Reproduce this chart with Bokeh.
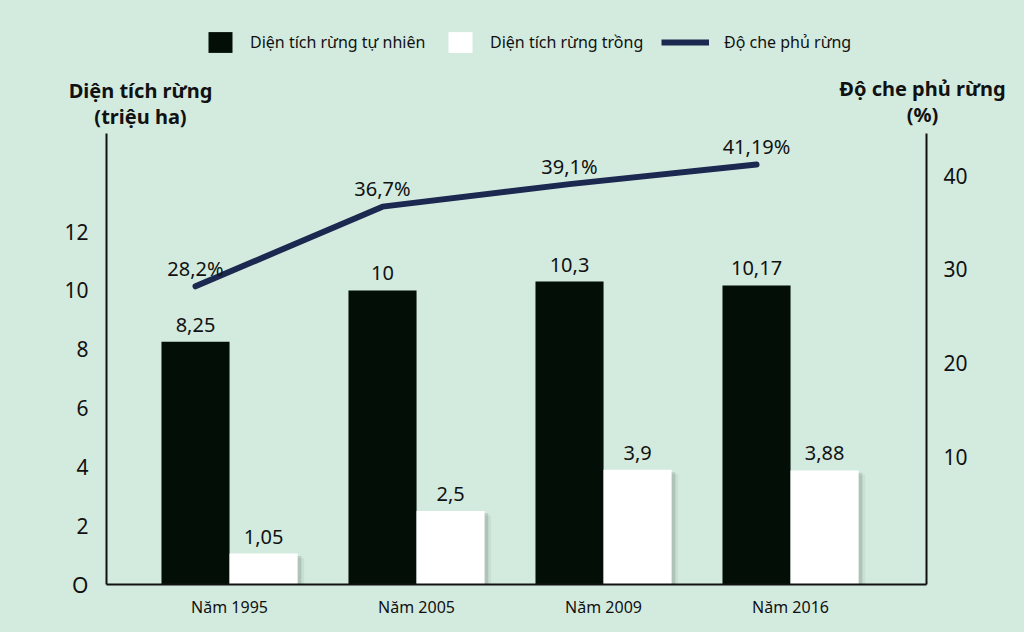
from bokeh.plotting import figure
from bokeh.layouts import column
from bokeh.models import (ColumnDataSource, LinearAxis, Range1d, FixedTicker,
                          LabelSet, Label, Legend, LegendItem)
from bokeh.core.properties import value
from bokeh.embed import file_html
from bokeh.resources import INLINE

# data
years = ["Năm 1995", "Năm 2005", "Năm 2009", "Năm 2016"]
natural_forest = [8.25, 10, 10.3, 10.17]     # triệu ha
planted_forest = [1.05, 2.5, 3.9, 3.88]      # triệu ha
forest_cover = [28.2, 36.7, 39.1, 41.19]     # %
left_ticks = [0, 2, 4, 6, 8, 10, 12]
right_ticks = [10, 20, 30, 40]

FONT = "Noto Sans"
BG = "#d3ebdf"
BAR_DARK = "#020e06"
LINE_COLOR = "#1b2850"
TXT = "#111111"

x = list(range(len(years)))
bw = 0.364
x_nat = [i - bw / 2 for i in x]
x_pla = [i + bw / 2 for i in x]

src = ColumnDataSource(data=dict(
    x_nat=x_nat, x_pla=x_pla,
    nat=natural_forest, pla=planted_forest, cover=forest_cover,
    nat_lbl=[f"{v:g}".replace(".", ",") for v in natural_forest],
    pla_lbl=[f"{v:g}".replace(".", ",") for v in planted_forest],
    cover_lbl=[f"{v:g}".replace(".", ",") + "%" for v in forest_cover],
))

HEAD_H = 133

# ---- header: legend + axis titles ----
head = figure(width=1024, height=HEAD_H, output_backend="svg", toolbar_location=None,
              x_range=Range1d(0, 1024), y_range=Range1d(HEAD_H, 0),
              min_border=0, background_fill_color=BG, border_fill_color=BG,
              outline_line_color=None)
head.frame_align = False
head.axis.visible = False
head.grid.visible = False

# zero-size renderers, only used for the legend swatches
dummy_nat = head.vbar(x=[0], top=[0], width=0, fill_color=BAR_DARK, line_color=None)
dummy_pla = head.vbar(x=[0], top=[0], width=0, fill_color="white", line_color=None)
dummy_line = head.line(x=[0], y=[0], line_color=LINE_COLOR, line_width=6)


def add_legend(label, renderer, loc, gw):
    lg = Legend(items=[LegendItem(label=label, renderers=[renderer])], location=loc,
                orientation="horizontal", glyph_width=gw, glyph_height=26, label_height=26,
                label_standoff=15, padding=0, margin=0, border_line_color=None,
                background_fill_alpha=0, label_text_font=FONT, label_text_font_size="16px",
                label_text_color=TXT)
    head.add_layout(lg)


add_legend("Diện tích rừng tự nhiên", dummy_nat, (205, HEAD_H - 55), 30)
add_legend("Diện tích rừng trồng", dummy_pla, (445, HEAD_H - 55), 30)
add_legend("Độ che phủ rừng", dummy_line, (661, HEAD_H - 55), 48)

title_style = dict(text_font=FONT, text_font_size="20px", text_font_style="bold",
                   text_color=TXT, text_align="center", text_baseline="middle")
head.add_layout(Label(x=140, y=90, text="Diện tích rừng", **title_style))
head.add_layout(Label(x=140, y=116, text="(triệu ha)", **title_style))
head.add_layout(Label(x=922, y=88, text="Độ che phủ rừng", **title_style))
head.add_layout(Label(x=922, y=114, text="(%)", **title_style))

# ---- main chart ----
p = figure(width=1024, height=632 - HEAD_H, output_backend="svg", toolbar_location=None,
           x_range=Range1d(-0.658, 3.727), y_range=Range1d(0, 15.334),
           min_border_left=106, min_border_right=98, min_border_top=0, min_border_bottom=48,
           background_fill_color=BG, border_fill_color=BG, outline_line_color=None)
p.frame_align = False
p.grid.visible = False
p.extra_y_ranges = {"pct": Range1d(-3.6, 44.5)}

# soft shadow right of the white bars
p.vbar(x=[v + 0.035 for v in x_pla], top=[v - 0.15 for v in planted_forest], width=bw,
       fill_color="#000000", fill_alpha=0.05, line_color=None)
p.vbar(x=[v + 0.02 for v in x_pla], top=[v - 0.08 for v in planted_forest], width=bw,
       fill_color="#000000", fill_alpha=0.12, line_color=None)

p.vbar(x="x_nat", top="nat", width=bw, source=src, fill_color=BAR_DARK, line_color=None)
p.vbar(x="x_pla", top="pla", width=bw, source=src, fill_color="white", line_color=None)

# forest cover line
p.line(x="x_nat", y="cover", source=src, y_range_name="pct", line_color=LINE_COLOR,
       line_width=6, line_cap="round", line_join="round")

# value labels
lab_style = dict(text_font=value(FONT), text_font_size="20px", text_color=TXT,
                 text_align="center", text_baseline="middle")
p.add_layout(LabelSet(x="x_nat", y="nat", text="nat_lbl", source=src, y_offset=17, **lab_style))
p.add_layout(LabelSet(x="x_pla", y="pla", text="pla_lbl", source=src, y_offset=17, **lab_style))
p.add_layout(LabelSet(x="x_nat", y="cover", text="cover_lbl", source=src, y_range_name="pct",
                      y_offset=18, **lab_style))


# axes
def style_axis(ax, size="21px"):
    ax.axis_line_color = TXT
    ax.axis_line_width = 2
    ax.major_tick_line_color = None
    ax.minor_tick_line_color = None
    ax.major_label_text_font = FONT
    ax.major_label_text_font_size = size
    ax.major_label_text_color = TXT


ya = p.yaxis[0]
ya.ticker = FixedTicker(ticks=left_ticks)
ya.major_label_overrides = {0: "O"}
ya.major_label_standoff = 12
style_axis(ya)

xa = p.xaxis[0]
xa.ticker = FixedTicker(ticks=x)
xa.major_label_overrides = {i: years[i] for i in x}
xa.major_label_standoff = 5
style_axis(xa, "16px")

ra = LinearAxis(y_range_name="pct", ticker=FixedTicker(ticks=right_ticks))
ra.major_label_standoff = 11
style_axis(ra)
p.add_layout(ra, "right")

layout = column(head, p, spacing=0)
layout.styles = {"background-color": BG}
open("out.html", "w").write(file_html(layout, INLINE))
